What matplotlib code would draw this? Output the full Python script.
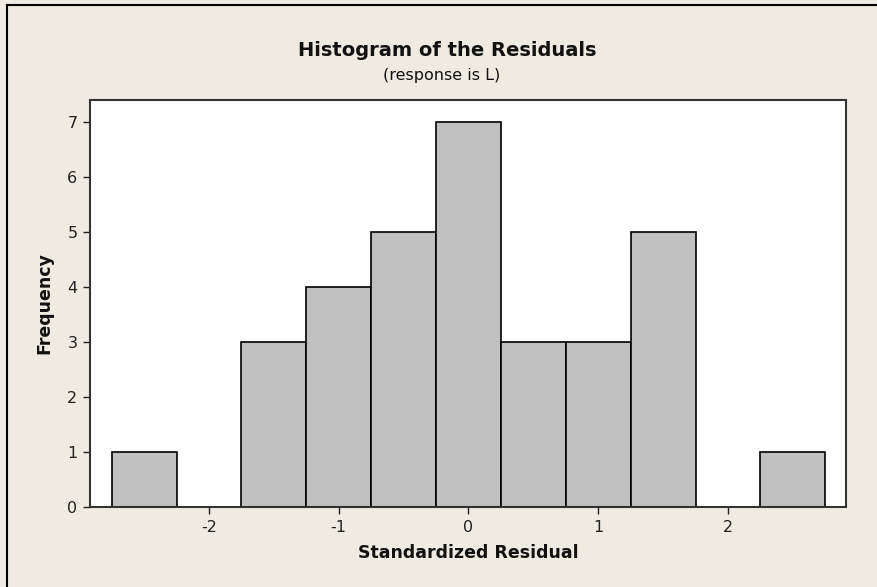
import matplotlib
matplotlib.use("Agg")
import matplotlib.pyplot as plt
from matplotlib.lines import Line2D

bin_centers = [-2.5, -2.0, -1.5, -1.0, -0.5, 0.0, 0.5, 1.0, 1.5, 2.0, 2.5]
frequencies = [1, 0, 3, 4, 5, 7, 3, 3, 5, 0, 1]
bin_width = 0.5
x_ticks = [-2, -1, 0, 1, 2]
y_ticks = [0, 1, 2, 3, 4, 5, 6, 7]

bg = '#efebe2'
fig = plt.figure(figsize=(8.78, 5.87), dpi=100, facecolor=bg)
W, H = 878, 587
ax = fig.add_axes([90 / W, 1 - 507 / H, (846 - 90) / W, (507 - 100) / H])
ax.set_facecolor('white')
ax.bar(bin_centers, frequencies, width=bin_width, color='#c0c0c0',
       edgecolor='black', linewidth=1.2, align='center', zorder=2)
ax.set_xlim(-2.917, 2.91)
ax.set_ylim(0, 7.4)
ax.set_xticks(x_ticks)
ax.set_yticks(y_ticks)
ax.set_xticklabels([str(t) for t in x_ticks])
ax.tick_params(axis='both', direction='out', length=5, width=1, labelsize=11.5,
               colors='#222222', pad=4)
for s in ax.spines.values():
    s.set_linewidth(1.5)
    s.set_color('#333333')

ax.set_xlabel('Standardized Residual', fontsize=12.5, fontweight='bold', labelpad=7,
              color='#111111')
ax.set_ylabel('Frequency', fontsize=12.5, fontweight='bold', labelpad=10,
              color='#111111')

fig.text(447 / W, 1 - 56 / H, 'Histogram of the Residuals', ha='center', va='baseline',
         fontsize=14, fontweight='bold', color='#111111')
fig.text(442 / W, 1 - 80 / H, '(response is L)', ha='center', va='baseline',
         fontsize=11.5, color='#111111')

# outer frame (left and top visible)
fig.add_artist(Line2D([7 / W, 7 / W], [0, 1 - 5 / H], transform=fig.transFigure,
                      color='black', linewidth=1.5))
fig.add_artist(Line2D([7 / W, 1], [1 - 5 / H, 1 - 5 / H], transform=fig.transFigure,
                      color='black', linewidth=1.5))

fig.savefig('out.png', dpi=100, facecolor=bg)
